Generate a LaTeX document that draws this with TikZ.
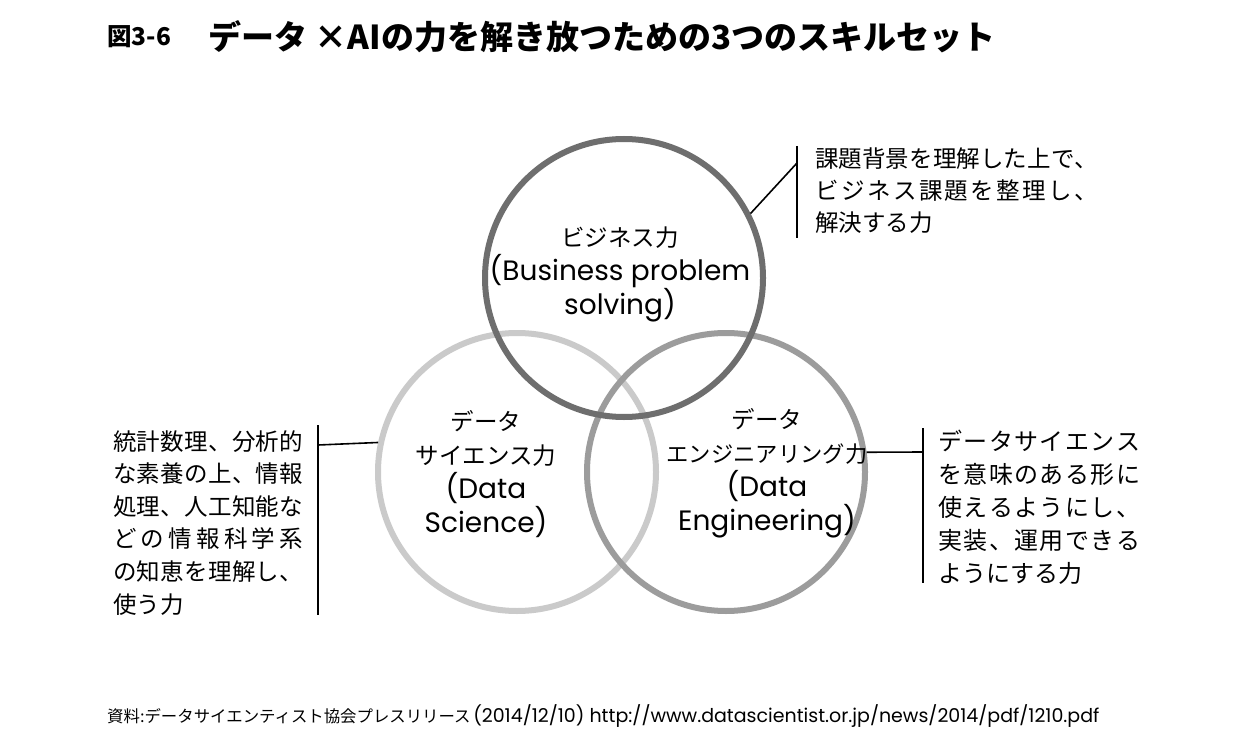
\documentclass[tikz,border=0pt]{standalone}
\usepackage{fontspec}
\setmainfont{Poppins}
\newfontfamily\jp{Noto Sans CJK JP}
\usetikzlibrary{positioning}
\definecolor{ringbiz}{HTML}{6E6E6E}
\definecolor{ringds}{HTML}{CACACA}
\definecolor{ringde}{HTML}{9C9C9C}
% spread the characters of one line over a fixed width
\newcommand{\sprd}[1]{\sprdB#1\relax}
\def\sprdB#1{#1\sprdC}
\def\sprdC#1{\ifx\relax#1\else\hfill#1\expandafter\sprdC\fi}
\newcommand{\jline}[2]{\hbox to #1pt{\sprd{#2}}}
\newcommand{\ja}{\jp\fontsize{23.5}{32}\selectfont}

\begin{document}
\begin{tikzpicture}[x=1pt, y=-1pt,
    ring/.style={circle, minimum size=278pt, line width=6pt, inner sep=0pt},
    lbl/.style={align=center, inner sep=0pt, font=\fontsize{28}{34}\selectfont},
    note/.style={align=left, inner sep=0pt, anchor=north west},
    lead/.style={line width=1.6pt, black},
]
    \path[use as bounding box, fill=white] (0,0) rectangle (1242,741);

    % title
    \node[anchor=west, inner sep=0pt, font=\jp\bfseries\fontsize{24.5}{24}\selectfont] (fignum) at (107,37) {図3-6};
    \node[anchor=west, inner sep=0pt, font=\jp\bfseries\fontsize{33}{33}\selectfont] (title) at (208,37) {データ ×AIの力を解き放つための3つのスキルセット};

    % the three circles
    \node[ring, draw=ringds] (ds) at (517,472) {};
    \node[ring, draw=ringde] (de) at (726,472) {};
    \node[ring, draw=ringbiz] (biz) at (624,278) {};

    \node[lbl] (bizt) at (620,274) {{\ja ビジネス力}\\(Business problem\\solving)};
    \node[lbl] (dst) at (486,474) {{\ja データ}\\{\ja サイエンス力}\\(Data\\Science)};
    \node[lbl] (det) at (767,473) {{\ja データ}\\{\jp\fontsize{22.3}{32}\selectfont エンジニアリング力}\\(Data\\Engineering)};

    % notes
    \node[note, font=\jp\fontsize{23.5}{32}\selectfont] (biznote) at (815,148) {\jline{283}{課題背景を理解した上で、}\\\jline{283}{ビジネス課題を整理し、}\\解決する力};
    \node[note, font=\jp\fontsize{23.5}{32.6}\selectfont] (dsnote) at (113,430) {\jline{190}{統計数理、分析的}\\\jline{190}{な素養の上、情報}\\\jline{190}{処理、人工知能な}\\\jline{190}{どの情報科学系}\\\jline{190}{の知恵を理解し、}\\使う力};
    \node[note, font=\jp\fontsize{24}{33}\selectfont] (denote) at (938,430) {\jline{202}{データサイエンス}\\\jline{202}{を意味のある形に}\\\jline{202}{使えるようにし、}\\\jline{202}{実装、運用できる}\\ようにする力};

    % leader lines
    \coordinate (bizbar1) at (797,146);
    \coordinate (bizbar2) at (797,238);
    \coordinate (bizjoin) at (797,163);
    \coordinate (dsbar1) at (318,425);
    \coordinate (dsbar2) at (318,615);
    \coordinate (dsjoin) at (318,445);
    \coordinate (debar1) at (923,428);
    \coordinate (debar2) at (923,583);
    \coordinate (dejoin) at (923,452);
    \draw[lead] (bizbar1) -- (bizbar2);
    \draw[lead] (biz.27) -- (bizjoin);
    \draw[lead] (dsbar1) -- (dsbar2);
    \draw[lead] (ds.168) -- (dsjoin);
    \draw[lead] (debar1) -- (debar2);
    \draw[lead] (de.8) -- (dejoin);

    % source
    \node[anchor=west, inner sep=0pt] (src) at (107,716) {{\jp\fontsize{16.4}{16}\selectfont 資料:データサイエンティスト協会プレスリリース} \fontsize{19}{19}\selectfont (2014/12/10) http://www.datascientist.or.jp/news/2014/pdf/1210.pdf};
\end{tikzpicture}
\end{document}
